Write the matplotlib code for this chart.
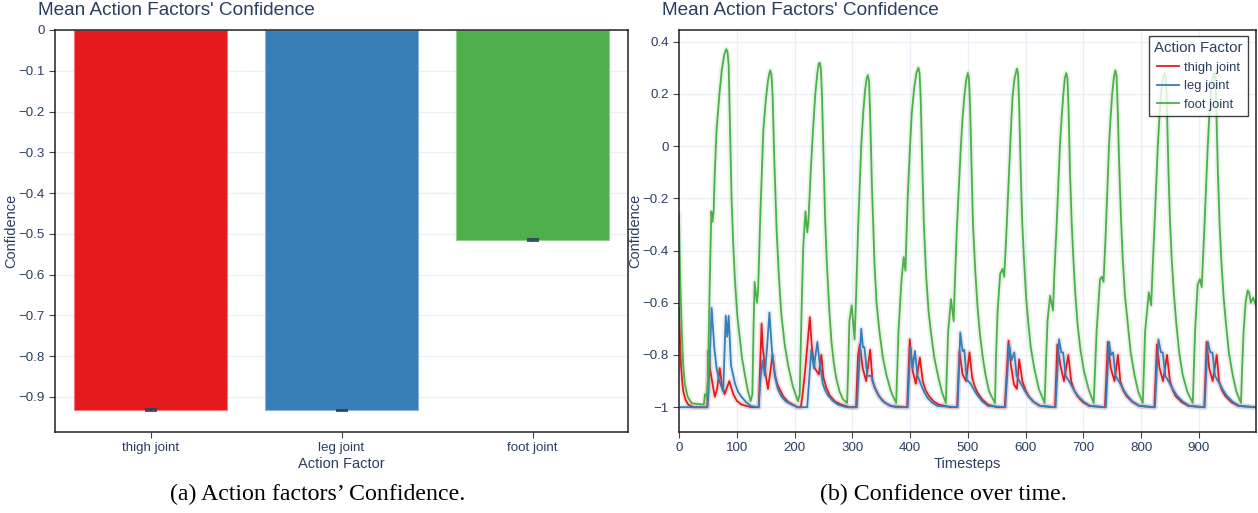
import matplotlib
matplotlib.use('Agg')
import matplotlib.pyplot as plt
import numpy as np
from matplotlib.ticker import FuncFormatter, MultipleLocator

plt.rcParams['font.family'] = ['Liberation Sans', 'DejaVu Sans']

TXT = '#2a3f5f'
GRID = '#ebf0f8'
RED = '#e41a1c'
BLUE = '#377eb8'
GREEN = '#4daf4a'

# left panel: mean confidence per action factor
factors = ['thigh joint', 'leg joint', 'foot joint']
mean_conf = [-0.932, -0.933, -0.515]
conf_err = [0.002, 0.002, 0.002]

# right panel: confidence over time, (timestep, value) vertices
thigh_pts = [(0, -0.62), (2, -0.76), (3.5, -0.84), (5.5, -0.9), (7.5, -0.94), (11, -0.97), (16, -0.99),
             (25, -1.0), (49, -1.0), (51, -0.785), (53.5, -0.85), (58, -0.91), (62, -0.96), (66, -0.93),
             (70.5, -0.85), (74, -0.91), (79, -0.95), (87, -0.90), (94, -0.95), (100, -0.975), (108, -0.99),
             (125, -1.0), (138, -1.0), (143, -0.68), (145, -0.77), (150, -0.875), (154, -0.93), (162, -0.80),
             (166, -0.875), (170, -0.91), (174, -0.93), (181, -0.96), (189, -0.98), (205, -1.0),
             (211, -1.0), (214, -0.95), (217.5, -0.88), (222, -0.77), (226.5, -0.655), (230, -0.77),
             (235, -0.85), (242, -0.875), (246.5, -0.80), (250, -0.886), (255, -0.925), (261, -0.955),
             (270, -0.978), (281, -0.99), (295, -1.0), (306.5, -1.0), (310, -0.80), (313, -0.76),
             (318, -0.85), (324, -0.90), (331, -0.78), (335, -0.90), (340, -0.93), (347, -0.96),
             (356, -0.982), (367, -0.996), (395, -1.0), (399.5, -0.74), (404.5, -0.86), (410, -0.91),
             (417, -0.81), (422, -0.90), (427, -0.935), (433, -0.958), (441, -0.978), (450, -0.99),
             (470, -1.0), (481.5, -1.0), (485.5, -0.785), (491, -0.875), (497, -0.90), (503, -0.79),
             (507.5, -0.886), (512, -0.92), (517, -0.945), (525, -0.97), (535, -0.99), (550, -1.0),
             (564, -1.0), (570.5, -0.745), (574.5, -0.836), (580, -0.913), (585, -0.93), (589, -0.817),
             (594.5, -0.90), (600, -0.935), (606, -0.96), (614, -0.98), (625, -0.995), (651, -1.0),
             (655, -0.76), (660, -0.836), (666.5, -0.90), (674, -0.80), (679, -0.90), (684, -0.935),
             (690, -0.958), (699, -0.98), (710, -0.995), (737.5, -1.0), (742.5, -0.75), (747.5, -0.85),
             (754, -0.90), (760, -0.80), (764, -0.90), (769, -0.935), (775, -0.958), (785, -0.98),
             (797, -0.995), (823, -1.0), (827.5, -0.76), (832, -0.85), (838, -0.90), (845, -0.80),
             (850, -0.90), (855, -0.935), (860, -0.958), (870, -0.98), (882, -0.995), (909.5, -1.0),
             (913.5, -0.75), (918, -0.85), (924, -0.90), (931, -0.80), (935, -0.90), (940, -0.935),
             (946, -0.958), (956, -0.98), (968, -0.995), (999, -1.0)]

leg_pts = [(0, -1.0), (49, -1.0), (51, -0.95), (56.5, -0.62), (61, -0.77), (65, -0.85), (70, -0.90),
           (76.5, -0.94), (81, -0.65), (83.5, -0.73), (86, -0.65), (90, -0.84), (97, -0.91), (102, -0.94),
           (108, -0.96), (116, -0.98), (125, -0.996), (138, -1.0), (140.5, -0.91), (144.5, -0.82),
           (148.5, -0.88), (152.5, -0.77), (156.5, -0.638), (161, -0.785), (166, -0.88), (171, -0.93),
           (177, -0.958), (185, -0.978), (195, -0.99), (206, -1.0), (222, -1.0), (229, -0.78),
           (233.5, -0.85), (239.5, -0.75), (243, -0.82), (249, -0.91), (253, -0.935), (258, -0.955),
           (266, -0.975), (275, -0.99), (290, -1.0), (308, -1.0), (315.5, -0.70), (318.5, -0.77),
           (321, -0.77), (326, -0.88), (333, -0.88), (338, -0.92), (344, -0.95), (352, -0.975),
           (362, -0.99), (375, -1.0), (396, -1.0), (400.5, -0.77), (404.5, -0.85), (408.5, -0.785),
           (413, -0.88), (419, -0.913), (424, -0.94), (430, -0.964), (438, -0.982), (447, -0.995),
           (482.5, -1.0), (487, -0.714), (491, -0.785), (494, -0.78), (498, -0.894), (505, -0.91),
           (511, -0.935), (517, -0.955), (525, -0.978), (535, -0.995), (565, -1.0), (571.5, -0.76),
           (576, -0.82), (580.5, -0.79), (584.5, -0.88), (592, -0.91), (598, -0.935), (604, -0.955),
           (613, -0.978), (625, -0.995), (652, -1.0), (658, -0.74), (662, -0.79), (665, -0.79),
           (669.5, -0.88), (678, -0.91), (684, -0.935), (690, -0.955), (700, -0.978), (712, -0.995),
           (739, -1.0), (744.5, -0.75), (748, -0.80), (751.5, -0.79), (756, -0.88), (764, -0.91),
           (770, -0.935), (776, -0.955), (785, -0.978), (797, -0.995), (824, -1.0), (830, -0.74),
           (834.5, -0.79), (837.5, -0.79), (842, -0.88), (850, -0.91), (856, -0.935), (862, -0.955),
           (872, -0.978), (884, -0.995), (910, -1.0), (915.5, -0.75), (920, -0.79), (923.5, -0.79),
           (928, -0.88), (936, -0.91), (942, -0.935), (948, -0.955), (958, -0.978), (970, -0.995),
           (999, -1.0)]

foot_pts = [(0, -0.26), (2, -0.5), (4.6, -0.70), (7, -0.83), (10, -0.91), (15, -0.96), (22, -0.985),
            (43, -0.99), (45, -0.95), (48, -0.96), (50, -0.9), (53, -0.55), (56, -0.25), (58, -0.29),
            (60, -0.25), (62, -0.1), (65, 0.06), (70, 0.2), (74, 0.29), (78, 0.345), (80, 0.362),
            (82, 0.372), (84, 0.36), (86, 0.31), (88, 0.1), (91, -0.2), (94, -0.38), (97, -0.52),
            (101, -0.65), (105, -0.73), (109, -0.81), (114, -0.875), (119, -0.935), (124, -0.977),
            (127, -0.95), (129, -0.7), (131, -0.52), (135, -0.6), (137, -0.55), (141, -0.25), (146, 0.06),
            (150, 0.17), (154, 0.25), (156.5, 0.28), (158, 0.29), (160, 0.275), (162, 0.2), (165, -0.05),
            (169, -0.32), (173, -0.5), (177, -0.64), (183, -0.76), (189, -0.84), (197, -0.92),
            (206, -0.977), (209, -0.95), (212, -0.65), (215, -0.39), (219, -0.25), (222, -0.33),
            (224, -0.29), (228, -0.1), (232, 0.06), (236, 0.2), (239.5, 0.28), (242, 0.315), (243.5, 0.32),
            (245.5, 0.3), (247.5, 0.2), (250, -0.02), (253, -0.28), (256, -0.45), (260, -0.62),
            (264, -0.75), (268, -0.83), (272, -0.887), (278, -0.94), (284, -0.97), (291, -0.984),
            (293, -0.85), (295, -0.67), (299, -0.61), (304, -0.74), (307, -0.55), (310, -0.32),
            (315.5, 0.0), (319, 0.13), (322, 0.21), (325, 0.26), (327, 0.272), (329, 0.25), (331, 0.12),
            (334, -0.15), (338.5, -0.45), (342, -0.6), (347, -0.71), (353, -0.81), (359, -0.875),
            (367, -0.94), (376, -0.984), (378, -0.85), (380, -0.71), (385, -0.52), (389, -0.425),
            (392, -0.477), (396, -0.195), (400, 0.0), (403, 0.125), (407, 0.22), (411, 0.28),
            (414.5, 0.30), (416.5, 0.28), (418.5, 0.18), (421, -0.05), (424, -0.3), (428, -0.5),
            (432, -0.63), (436, -0.71), (442, -0.81), (448, -0.875), (455, -0.94), (462, -0.984),
            (464, -0.85), (466, -0.71), (471, -0.586), (475.5, -0.67), (478, -0.5), (481, -0.32),
            (488, 0.0), (491, 0.11), (494, 0.19), (497, 0.25), (500, 0.28), (502, 0.26), (504, 0.15),
            (506.5, -0.08), (509, -0.3), (513, -0.48), (517, -0.62), (521, -0.72), (526, -0.81),
            (531, -0.88), (537, -0.94), (547, -0.984), (549, -0.8), (551.5, -0.64), (556, -0.49),
            (560, -0.47), (563, -0.50), (566, -0.374), (572, -0.067), (575, 0.08), (577.5, 0.19),
            (581, 0.26), (585, 0.297), (587, 0.28), (589, 0.15), (591.5, -0.08), (594, -0.28),
            (597, -0.42), (601, -0.58), (604.5, -0.67), (609, -0.77), (615, -0.85), (623, -0.93),
            (633, -0.984), (635.5, -0.82), (638, -0.67), (642.5, -0.573), (647.5, -0.63), (650, -0.48),
            (653.5, -0.32), (659.5, 0.0), (662.5, 0.11), (665.5, 0.2), (668, 0.26), (670.5, 0.28),
            (672.5, 0.26), (674.5, 0.14), (677, -0.1), (680, -0.3), (683, -0.44), (686, -0.56),
            (690, -0.68), (695, -0.78), (701, -0.86), (709, -0.93), (718, -0.984), (720.5, -0.85),
            (723, -0.71), (729, -0.51), (732, -0.50), (735, -0.52), (738.5, -0.35), (744.5, 0.0),
            (747, 0.1), (750, 0.2), (753, 0.265), (755.5, 0.29), (757.5, 0.27), (759.5, 0.15),
            (762, -0.06), (765, -0.26), (768, -0.42), (772, -0.57), (777, -0.68), (782, -0.79),
            (788.5, -0.875), (795, -0.94), (803, -0.984), (805, -0.85), (807, -0.71), (813.5, -0.56),
            (817.5, -0.61), (820, -0.47), (823, -0.32), (829, 0.0), (832, 0.12), (835, 0.21), (838, 0.26),
            (841, 0.28), (843, 0.26), (845, 0.13), (847.5, -0.1), (850, -0.28), (853, -0.43),
            (857, -0.57), (861, -0.68), (866, -0.79), (872, -0.875), (880, -0.94), (889.5, -0.984),
            (891.5, -0.85), (893.5, -0.71), (898, -0.53), (902, -0.51), (905, -0.54), (909.5, -0.32),
            (915.5, 0.0), (918, 0.11), (921, 0.21), (924, 0.26), (926.5, 0.28), (928.5, 0.26),
            (930.5, 0.13), (933, -0.1), (936, -0.3), (939, -0.44), (943, -0.58), (947, -0.68),
            (952, -0.79), (958.5, -0.875), (965, -0.94), (973, -0.984), (975, -0.85), (977.5, -0.71),
            (981, -0.6), (984.5, -0.553), (987, -0.56), (990, -0.6), (994, -0.58), (999, -0.61)]

series = [('thigh joint', thigh_pts, RED), ('leg joint', leg_pts, BLUE), ('foot joint', foot_pts, GREEN)]


def fmt(v, pos):
    s = '%g' % round(v, 3)
    if s == '-0':
        s = '0'
    return s.replace('-', '\u2212')


def style_axes(ax):
    for sp in ax.spines.values():
        sp.set_color('#222222')
        sp.set_linewidth(1.1)
    ax.tick_params(colors='#444444', labelcolor=TXT, labelsize=9.6, length=4, width=0.8, direction='out')
    ax.yaxis.set_major_formatter(FuncFormatter(fmt))
    ax.set_axisbelow(True)


fig = plt.figure(figsize=(12.58, 5.13), dpi=100)

# ---- left: bars
ax1 = fig.add_axes([55 / 1258, 1 - 432 / 513, 573 / 1258, 402 / 513])
x = np.arange(len(factors))
ax1.bar(x, mean_conf, width=0.8, color=[RED, BLUE, GREEN], edgecolor=['#f07a7b', '#8bb4d9', '#94cf92'],
        linewidth=0.8)
ax1.errorbar(x, mean_conf, yerr=conf_err, fmt='none', ecolor=TXT, elinewidth=1.2, capsize=4, capthick=1.2)
ax1.set_xlim(-0.5, 2.5)
ax1.set_ylim(-0.986, 0)
ax1.yaxis.set_major_locator(MultipleLocator(0.1))
ax1.set_xticks(x)
ax1.set_xticklabels(factors)
ax1.grid(axis='y', color=GRID, linewidth=1)
style_axes(ax1)
ax1.set_xlabel('Action Factor', color=TXT, fontsize=10.5, labelpad=2)
ax1.set_ylabel('Confidence', color=TXT, fontsize=10.5, labelpad=0)
fig.text(38 / 1258, 1 - 11 / 513, "Mean Action Factors' Confidence", color=TXT, fontsize=13.7, va='center')

# ---- right: lines over time
ax2 = fig.add_axes([679 / 1258, 1 - 432 / 513, 577 / 1258, 402 / 513])
for name, pts, col in series:
    p = np.array(pts)
    ax2.plot(p[:, 0], p[:, 1], color=col, lw=4, alpha=0.13, solid_joinstyle='round')
    ax2.plot(p[:, 0], p[:, 1], color=col, lw=1.3, label=name, solid_joinstyle='round')
ax2.set_xlim(0, 999)
ax2.set_ylim(-1.095, 0.445)
ax2.xaxis.set_major_locator(MultipleLocator(100))
ax2.yaxis.set_major_locator(MultipleLocator(0.2))
ax2.grid(color=GRID, linewidth=1)
style_axes(ax2)
ax2.set_xlabel('Timesteps', color=TXT, fontsize=10.5, labelpad=2)
ax2.set_ylabel('Confidence', color=TXT, fontsize=10.5, labelpad=0)
fig.text(662 / 1258, 1 - 11 / 513, "Mean Action Factors' Confidence", color=TXT, fontsize=13.7, va='center')

handles = ax2.get_lines()[1::2]
leg = ax2.legend(handles, [s[0] for s in series], title='Action Factor', loc='upper right',
                 bbox_to_anchor=(0.986, 0.986), fontsize=9.4, title_fontsize=10.8, frameon=True, fancybox=False,
                 borderaxespad=0, handlelength=1.7, handletextpad=0.4, labelspacing=0.5, borderpad=0.4)
leg.get_frame().set_edgecolor('#111111')
leg.get_frame().set_linewidth(1.0)
leg.get_title().set_color(TXT)
for t in leg.get_texts():
    t.set_color(TXT)

# ---- captions
fig.text(318 / 1258, 1 - 494 / 513, "(a) Action factors\u2019 Confidence.", family='Liberation Serif',
         fontsize=17.2, ha='center', va='center')
fig.text(943 / 1258, 1 - 494 / 513, "(b) Confidence over time.", family='Liberation Serif',
         fontsize=17.2, ha='center', va='center')

fig.savefig('out.png', dpi=100)
